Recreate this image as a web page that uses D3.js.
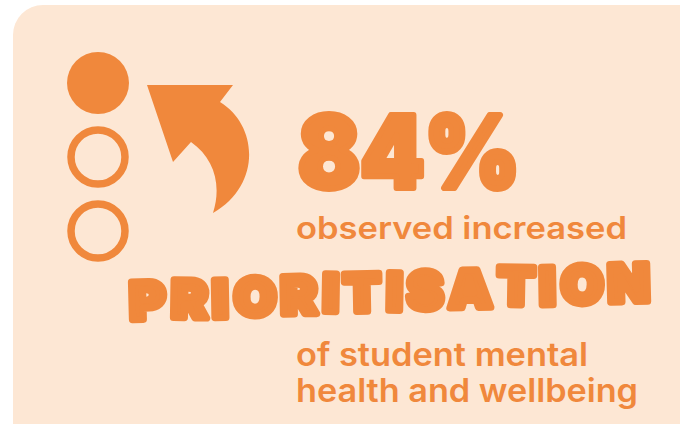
<!DOCTYPE html>
<html>
<head>
<meta charset="utf-8">
<script src="https://cdn.jsdelivr.net/npm/d3@7"></script>
<style>
  html, body { margin: 0; padding: 0; background: #ffffff; }
  svg { display: block; }
</style>
</head>
<body>
<svg id="chart" width="680" height="424"></svg>
<script>
// ---- data ----
const indicators = [1, 0, 0];            // filled = share highlighted
const headline = "84%";
const subLine = "observed increased";
const keyword = "PRIORITISATION";
const tailLines = ["of student mental", "health and wellbeing"];

// ---- styles ----
const ORANGE = "#f0883c";
const PEACH = "#fde7d4";

const svg = d3.select("#chart");

// card background
svg.append("rect")
  .attr("x", 13).attr("y", 5)
  .attr("width", 720).attr("height", 460)
  .attr("rx", 30).attr("ry", 30)
  .attr("fill", PEACH);

// indicator circles
const yInd = d3.scalePoint().domain(d3.range(indicators.length)).range([83, 231]);
svg.append("g").selectAll("circle")
  .data(indicators)
  .join("circle")
  .attr("cx", 98)
  .attr("cy", (d, i) => yInd(i))
  .attr("r", d => d ? 31 : 27)
  .attr("fill", d => d ? ORANGE : "none")
  .attr("stroke", d => d ? "none" : ORANGE)
  .attr("stroke-width", 7.5);

// curved arrow icon
const p = d3.path();
p.moveTo(147, 85);
p.lineTo(233, 85);
p.lineTo(220, 102);
p.bezierCurveTo(258, 125, 262, 185, 213, 213);
p.bezierCurveTo(222, 185, 214, 158, 191, 142);
p.lineTo(173, 162);
p.closePath();
svg.append("path").attr("d", p.toString()).attr("fill", ORANGE);

// headline
svg.append("text")
  .attr("x", 298).attr("y", 188)
  .attr("font-family", "Inter")
  .attr("font-weight", 900)
  .attr("font-size", 100)
  .attr("textLength", 222)
  .attr("lengthAdjust", "spacingAndGlyphs")
  .attr("fill", ORANGE)
  .attr("stroke", ORANGE)
  .attr("stroke-width", 6)
  .attr("stroke-linejoin", "round")
  .text(headline);

// sub line
svg.append("text")
  .attr("x", 296).attr("y", 239)
  .attr("font-family", "Inter")
  .attr("font-weight", 600)
  .attr("font-size", 31)
  .attr("textLength", 331)
  .attr("lengthAdjust", "spacingAndGlyphs")
  .attr("fill", ORANGE)
  .text(subLine);

// keyword, letter by letter along a gentle rising wave
const kw = svg.append("g");
const letters = keyword.split("");
const kwSize = 52;
const tmp = kw.selectAll("text.tmp").data(letters).join("text")
  .attr("class", "tmp")
  .attr("font-family", "Inter").attr("font-weight", 900).attr("font-size", kwSize)
  .text(d => d);
const widths = [];
tmp.each(function () { widths.push(this.getComputedTextLength()); });
tmp.remove();
const gap = 5;
const natural = d3.sum(widths) + gap * (letters.length - 1);
const x0 = 130, x1 = 650;
const sx = (x1 - x0) / natural;
let cursor = 0;
const placed = letters.map((ch, i) => {
  const cx = x0 + (cursor + widths[i] / 2) * sx;
  cursor += widths[i] + gap;
  return { ch, cx };
});
const baseY = d3.scaleLinear().domain([x0, x1]).range([320, 301]);
const tilt = [-1.5, 1, -1, 1.5, -1, 1, -1, 1, -1, -1, 1, -1, 1, -1.5];
const wobble = [0, 0, 1, 0, 0, -1, 0, 0, 0, 0, -1, 0, 0, 0];
kw.selectAll("text.k").data(placed).join("text")
  .attr("class", "k")
  .attr("font-family", "Inter").attr("font-weight", 900).attr("font-size", kwSize)
  .attr("text-anchor", "middle")
  .attr("fill", ORANGE)
  .attr("stroke", ORANGE)
  .attr("stroke-width", 7)
  .attr("stroke-linejoin", "round")
  .attr("transform", (d, i) =>
    `translate(${d.cx},${baseY(d.cx) + wobble[i]}) rotate(${tilt[i]}) scale(${sx},1)`)
  .text(d => d.ch);

// tail lines
const tailWidths = [292, 342];
svg.append("g").selectAll("text")
  .data(tailLines)
  .join("text")
  .attr("x", 296)
  .attr("y", (d, i) => 366 + i * 36)
  .attr("font-family", "Inter")
  .attr("font-weight", 600)
  .attr("font-size", 32)
  .attr("textLength", (d, i) => tailWidths[i])
  .attr("lengthAdjust", "spacingAndGlyphs")
  .attr("fill", ORANGE)
  .text(d => d);
</script>
</body>
</html>
